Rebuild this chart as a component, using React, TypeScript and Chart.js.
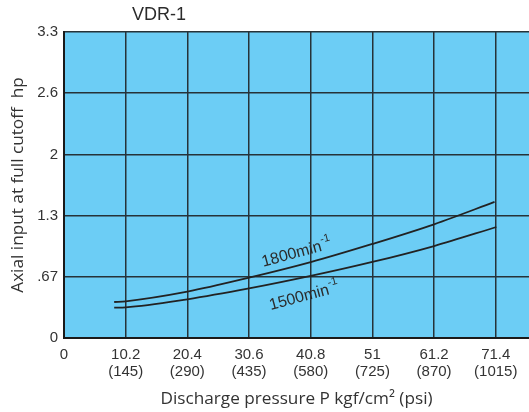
import { useEffect, useRef } from "react";
import { Chart, registerables } from "chart.js";

Chart.register(...registerables);

const chartTitle = "VDR-1";
const xAxisTitle = "Discharge pressure P kgf/cm² (psi)";
const yAxisTitle = "Axial input at full cutoff  hp";

const xTickValues = [0, 10.2, 20.4, 30.6, 40.8, 51, 61.2, 71.4];
const xTickLabels = [["0"], ["10.2", "(145)"], ["20.4", "(290)"], ["30.6", "(435)"], ["40.8", "(580)"], ["51", "(725)"], ["61.2", "(870)"], ["71.4", "(1015)"]];
const yTickValues = [0, 0.66, 1.32, 1.98, 2.64, 3.3];
const yTickLabels = ["0", ".67", "1.3", "2", "2.6", "3.3"];

const pressure1800 = [8.3, 10.2, 20.4, 30.6, 40.8, 51, 61.2, 71.2];
const input1800 = [0.388, 0.396, 0.5, 0.65, 0.818, 1.014, 1.226, 1.467];
const pressure1500 = [8.3, 10.2, 20.4, 30.6, 40.8, 51, 61.2, 71.5];
const input1500 = [0.327, 0.33, 0.417, 0.534, 0.669, 0.82, 0.992, 1.197];

const curveLabelText = ["1800min", "1500min"];
const curveLabelSup = ["-1", "-1"];
const curveLabelX = [32.95, 34.2];
const curveLabelY = [0.769, 0.302];

const FONT = "'Liberation Sans', Arial, sans-serif";
const TFONT = "'Open Sans', sans-serif";

export default function App() {
  const ref = useRef<HTMLCanvasElement | null>(null);
  useEffect(() => {
    document.body.style.margin = "0";
    const canvas = ref.current;
    if (!canvas) return;
    const bgPlugin = {
      id: "bg",
      beforeDraw(chart: any) {
        const { ctx, chartArea } = chart;
        ctx.save();
        ctx.fillStyle = "#6ccdf5";
        ctx.fillRect(chartArea.left, chartArea.top, chartArea.right - chartArea.left, chartArea.bottom - chartArea.top);
        ctx.restore();
      },
      afterDraw(chart: any) {
        const { ctx } = chart;
        ctx.save();
        ctx.fillStyle = "#2b2b2b";
        ctx.font = `18px ${FONT}`;
        ctx.textAlign = "center";
        ctx.textBaseline = "middle";
        ctx.fillText(chartTitle, 159, 15);
        const xs = chart.scales.x;
        const ys = chart.scales.y;
        for (let i = 0; i < curveLabelText.length; i++) {
          const px = xs.getPixelForValue(curveLabelX[i]);
          const py = ys.getPixelForValue(curveLabelY[i]);
          ctx.save();
          ctx.translate(px, py);
          ctx.rotate((-15 * Math.PI) / 180);
          ctx.textAlign = "left";
          ctx.textBaseline = "alphabetic";
          ctx.font = `16px ${FONT}`;
          ctx.fillText(curveLabelText[i], 0, 0);
          const w = ctx.measureText(curveLabelText[i]).width;
          ctx.font = `11px ${FONT}`;
          ctx.fillText(curveLabelSup[i], w + 0.5, -8);
          ctx.restore();
        }
        ctx.restore();
      },
    };
    const chart = new Chart(canvas, {
      type: "line",
      data: {
        datasets: [
          {
            label: "1800",
            data: pressure1800.map((x, i) => ({ x, y: input1800[i] })),
            borderColor: "#222",
            borderWidth: 1.8,
            pointRadius: 0,
            cubicInterpolationMode: "monotone",
          },
          {
            label: "1500",
            data: pressure1500.map((x, i) => ({ x, y: input1500[i] })),
            borderColor: "#222",
            borderWidth: 1.8,
            pointRadius: 0,
            cubicInterpolationMode: "monotone",
          },
        ],
      },
      options: {
        animation: false,
        responsive: false,
        layout: { padding: { top: 32, right: 0, left: 0, bottom: 0 } },
        plugins: { legend: { display: false }, title: { display: false }, tooltip: { enabled: false } },
        scales: {
          x: {
            type: "linear",
            min: 0,
            max: 76.9,
            afterFit: (s: any) => { s.height = 74; },
            afterBuildTicks: (s: any) => { s.ticks = xTickValues.map((v) => ({ value: v })); },
            ticks: {
              autoSkip: false,
              maxRotation: 0,
              padding: 8,
              color: "#333",
              font: { family: FONT, size: 15, lineHeight: 1.15 },
              callback: (_v: any, i: number) => xTickLabels[i],
            },
            grid: { color: "#263238", lineWidth: 1.5, drawTicks: false },
            border: { color: "#1a1a1a", width: 2 },
            title: { display: true, text: xAxisTitle, color: "#333", font: { family: TFONT, size: 17.2 }, padding: { top: 0, bottom: 3 } },
          },
          y: {
            type: "linear",
            min: 0,
            max: 3.3,
            afterFit: (s: any) => { s.width = 64; },
            afterBuildTicks: (s: any) => { s.ticks = yTickValues.map((v) => ({ value: v })); },
            ticks: {
              autoSkip: false,
              padding: 6,
              color: "#333",
              font: { family: FONT, size: 15 },
              callback: (_v: any, i: number) => yTickLabels[i],
            },
            grid: { color: "#263238", lineWidth: 1.5, drawTicks: false },
            border: { color: "#1a1a1a", width: 2 },
            title: { display: true, text: yAxisTitle, color: "#333", font: { family: TFONT, size: 17.2 }, padding: { top: 8, bottom: 0 } },
          },
        },
      },
      plugins: [bgPlugin],
    } as any);
    return () => chart.destroy();
  }, []);
  return (
    <div style={{ width: 529, height: 412 }}>
      <canvas ref={ref} width={529} height={412} />
    </div>
  );
}
